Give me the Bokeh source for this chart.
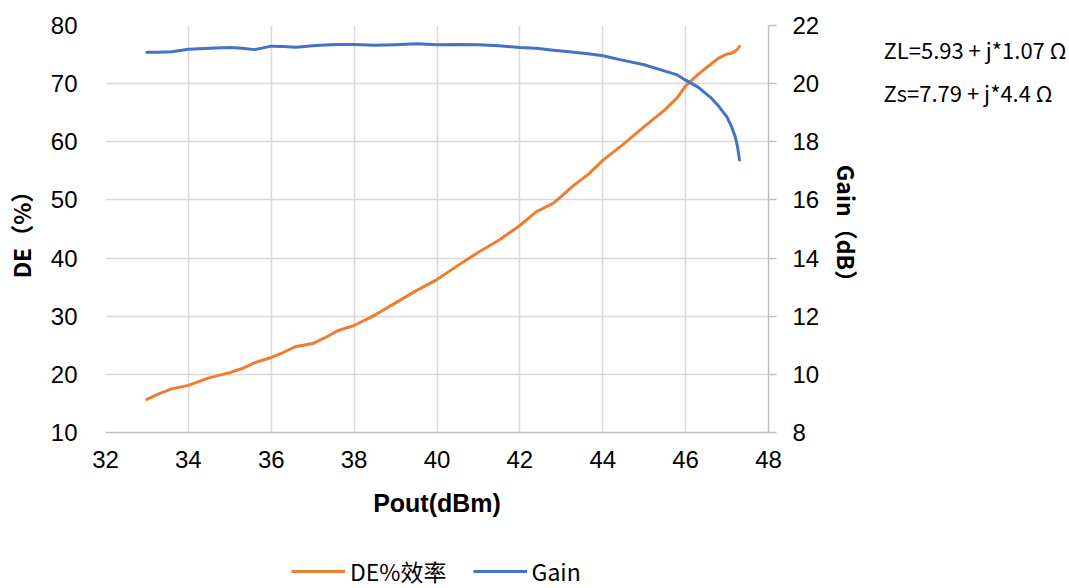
from bokeh.plotting import figure
from bokeh.layouts import column, row
from bokeh.models import Range1d, LinearAxis, Legend, LegendItem, Label, FixedTicker
from bokeh.embed import file_html
from bokeh.resources import INLINE

pout = [33.0, 33.3, 33.6, 34.0, 34.5, 35.0, 35.3, 35.6, 36.0, 36.3, 36.6, 37.0, 37.3, 37.6,
        38.0, 38.5, 39.0, 39.5, 40.0, 40.5, 41.0, 41.5, 42.0, 42.4, 42.8, 43.0, 43.3, 43.65,
        44.0, 44.5, 45.0, 45.5, 45.8, 46.0, 46.3, 46.6, 46.8, 47.0, 47.1, 47.2, 47.25, 47.3]
de = [15.7, 16.7, 17.5, 18.1, 19.4, 20.3, 21.0, 22.0, 22.9, 23.8, 24.8, 25.3, 26.3, 27.5,
      28.4, 30.2, 32.3, 34.4, 36.3, 38.7, 41.0, 43.1, 45.6, 48.0, 49.4, 50.6, 52.5, 54.4,
      56.8, 59.6, 62.6, 65.5, 67.6, 69.6, 71.6, 73.3, 74.4, 75.1, 75.2, 75.6, 75.9, 76.4]
gain = [21.08, 21.08, 21.10, 21.18, 21.22, 21.24, 21.22, 21.17, 21.29, 21.28, 21.25, 21.30, 21.33, 21.35,
        21.35, 21.32, 21.34, 21.37, 21.34, 21.35, 21.34, 21.30, 21.24, 21.22, 21.15, 21.12, 21.08, 21.03,
        20.96, 20.80, 20.65, 20.43, 20.30, 20.12, 19.88, 19.53, 19.22, 18.85, 18.55, 18.16, 17.85, 17.37]

x_ticks = [32, 34, 36, 38, 40, 42, 44, 46, 48]
de_ticks = [10, 20, 30, 40, 50, 60, 70, 80]
gain_ticks = [8, 10, 12, 14, 16, 18, 20, 22]
notes = ["ZL=5.93 + j*1.07 Ω", "Zs=7.79 + j*4.4 Ω"]
series_names = ["DE%效率", "Gain"]

ORANGE = "#ED7D31"
BLUE = "#4472C4"
GRID = "#d9d9d9"
AXIS = "#bfbfbf"
TICK_FONT = "Liberation Sans"
CJK = "Noto Sans CJK SC"

p = figure(width=883, height=538, output_backend="svg", toolbar_location=None,
           x_range=Range1d(32, 48), y_range=Range1d(10, 80),
           min_border_left=102, min_border_right=115, min_border_top=25, min_border_bottom=106)
p.outline_line_color = None
p.extra_y_ranges = {"gain": Range1d(8, 22)}

# grid
p.xgrid.ticker = FixedTicker(ticks=x_ticks)
p.ygrid.ticker = FixedTicker(ticks=de_ticks)
for g in (p.xgrid, p.ygrid):
    g.grid_line_color = GRID
    g.grid_line_width = 1.5

# bottom axis
xa = p.xaxis[0]
xa.ticker = FixedTicker(ticks=x_ticks)
xa.axis_label = "Pout(dBm)"
xa.axis_label_text_font = TICK_FONT
xa.axis_label_text_font_style = "bold"
xa.axis_label_text_font_size = "25px"
xa.axis_label_text_color = "black"
xa.axis_label_standoff = 18
xa.major_label_text_font = TICK_FONT
xa.major_label_text_font_size = "24px"
xa.major_label_text_color = "black"
xa.major_label_standoff = 12
xa.axis_line_color = AXIS
xa.axis_line_width = 1.5
xa.major_tick_line_color = None
xa.minor_tick_line_color = None

# left axis
ya = p.yaxis[0]
ya.ticker = FixedTicker(ticks=de_ticks)
ya.axis_label = "DE（%）"
ya.axis_label_text_font = CJK
ya.axis_label_text_font_style = "bold"
ya.axis_label_text_font_size = "23px"
ya.axis_label_text_color = "black"
ya.axis_label_standoff = 10
ya.major_label_text_font = TICK_FONT
ya.major_label_text_font_size = "24px"
ya.major_label_text_color = "black"
ya.major_label_standoff = 22
ya.axis_line_color = None
ya.major_tick_line_color = None
ya.minor_tick_line_color = None

# right axis
ra = LinearAxis(y_range_name="gain", ticker=FixedTicker(ticks=gain_ticks))
ra.axis_label = "Gain（dB）"
ra.axis_label_text_font = CJK
ra.axis_label_text_font_style = "bold"
ra.axis_label_text_font_size = "23px"
ra.axis_label_text_color = "black"
ra.axis_label_standoff = 8
ra.major_label_text_font = TICK_FONT
ra.major_label_text_font_size = "24px"
ra.major_label_text_color = "black"
ra.major_label_standoff = 16
ra.axis_line_color = AXIS
ra.axis_line_width = 1.5
ra.major_tick_line_color = AXIS
ra.major_tick_line_width = 1.5
ra.major_tick_in = 0
ra.major_tick_out = 8
ra.minor_tick_line_color = None
p.add_layout(ra, "right")

p.line(pout, de, line_color=ORANGE, line_width=3, line_join="round", line_cap="round")
p.line(pout, gain, line_color=BLUE, line_width=3, line_join="round", line_cap="round",
       y_range_name="gain")

# notes panel at the right (same vertical frame as the chart)
nt = figure(width=186, height=538, output_backend="svg", toolbar_location=None,
            x_range=Range1d(0, 1), y_range=Range1d(10, 80),
            x_axis_type=None, y_axis_type=None,
            min_border_left=0, min_border_right=0, min_border_top=25, min_border_bottom=106)
nt.outline_line_color = None
nt.grid.visible = False
for txt, yv in zip(notes, [76.0, 68.6]):
    nt.add_layout(Label(x=0, y=yv, text=txt, text_font=CJK,
                        text_font_size="22px", text_color="black", text_baseline="middle"))

# legend strip below the chart (its lines lie outside its own view; only the legend shows)
lg = figure(width=1069, height=50, output_backend="svg", toolbar_location=None,
            x_range=Range1d(0, 1), y_range=Range1d(0, 1),
            x_axis_type=None, y_axis_type=None,
            min_border_left=102, min_border_right=301, min_border_top=0, min_border_bottom=0)
lg.outline_line_color = None
lg.grid.visible = False
l_de = lg.line(pout, de, line_color=ORANGE, line_width=3)
l_gain = lg.line(pout, gain, line_color=BLUE, line_width=3)
legend = Legend(items=[LegendItem(label=series_names[0], renderers=[l_de]),
                       LegendItem(label=series_names[1], renderers=[l_gain])],
                location=(189, 0), orientation="horizontal",
                padding=0, margin=0, spacing=26, glyph_width=54, glyph_height=24,
                label_standoff=5, border_line_color=None, background_fill_alpha=0,
                label_text_font=CJK, label_text_font_size="23px",
                label_text_color="black")
lg.add_layout(legend, "center")

layout = column(row(p, nt, spacing=0), lg, spacing=0)
open("out.html", "w").write(file_html(layout, INLINE))
